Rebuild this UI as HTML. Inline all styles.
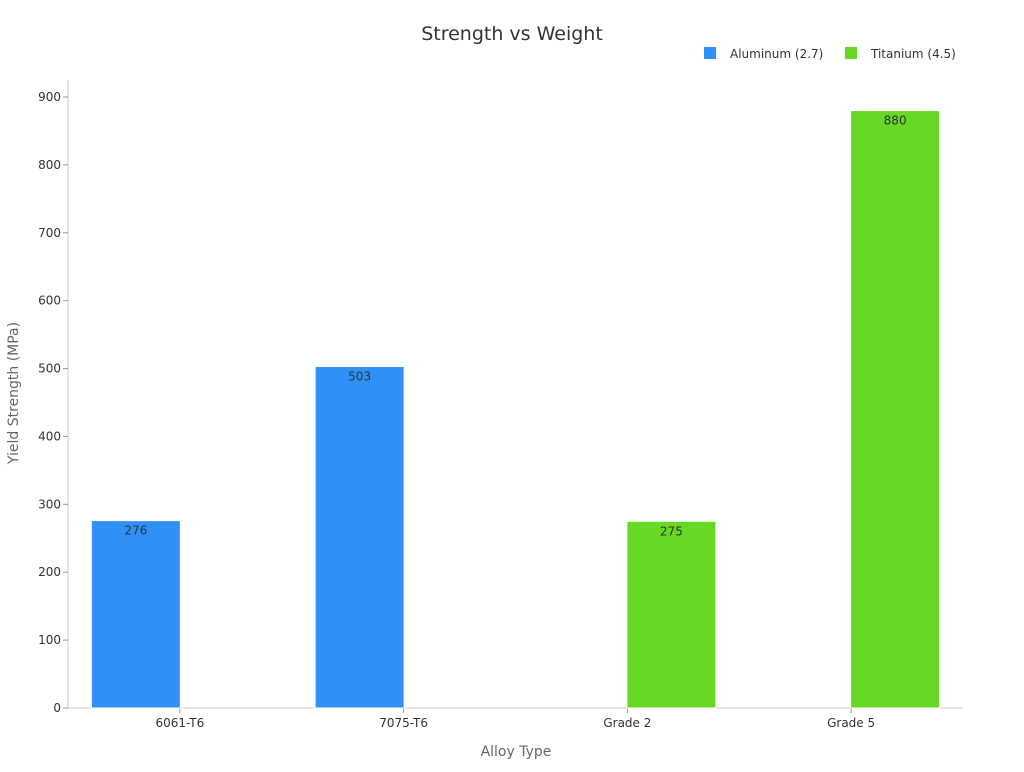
<!DOCTYPE html>
<html><head><meta charset="utf-8"><style>
body{margin:0;background:#fff;font-family:"DejaVu Sans","Liberation Sans",sans-serif;}
svg text{font-family:"DejaVu Sans","Liberation Sans",sans-serif;}
</style></head><body>
<svg id="chart" width="1024" height="768">
<text x="512" y="40" text-anchor="middle" font-size="19" fill="#333">Strength vs Weight</text>
<g>
<rect x="704" y="47" width="12" height="12" fill="#2f90f8"/>
<text x="730" y="58" font-size="12" fill="#333">Aluminum (2.7)</text>
<rect x="845" y="47" width="12" height="12" fill="#66d926"/>
<text x="871" y="58" font-size="12" fill="#333">Titanium (4.5)</text>
</g>
<g id="axes"></g>
<g id="bars"></g>
<text x="516" y="756" text-anchor="middle" font-size="14" fill="#666">Alloy Type</text>
<text transform="translate(18,393) rotate(-90)" text-anchor="middle" font-size="14" fill="#666">Yield Strength (MPa)</text>
</svg>
<script>
const categories=["6061-T6","7075-T6","Grade 2","Grade 5"];
const aluminumValues=[276,503,null,null];
const titaniumValues=[null,null,275,880];
const yTicks=[0,100,200,300,400,500,600,700,800,900];
const NS="http://www.w3.org/2000/svg";
const L=68,R=963,T=97,B=708,YMAX=900;
const y=v=>B-(v/YMAX)*(B-T);
const band=(R-L)/categories.length;
const xc=i=>L+band*(i+0.5);
function mk(tag,attrs,parent,text){const e=document.createElementNS(NS,tag);for(const k in attrs)e.setAttribute(k,attrs[k]);if(text!=null)e.textContent=text;parent.appendChild(e);return e;}
const ax=document.getElementById('axes'),bg=document.getElementById('bars');
let e=mk('line',{x1:L,x2:L,y1:80,y2:B,stroke:'#ccc'},ax);


e=mk('line',{x1:L,x2:R,y1:B,y2:B,stroke:'#ccc'},ax);


yTicks.forEach(t=>{
 const tk=mk('line',{x1:L-5,x2:L,y1:y(t),y2:y(t),stroke:'#999'},ax);
 
 
 const lb=mk('text',{x:L-7,y:y(t)+4,'text-anchor':'end','font-size':12,fill:'#333'},ax,t);
 
 
});
categories.forEach((c,i)=>{
 const tk=mk('line',{x1:xc(i),x2:xc(i),y1:B,y2:B+5,stroke:'#999'},ax);
 
 
 const lb=mk('text',{x:xc(i),y:B+19,'text-anchor':'middle','font-size':12,fill:'#333'},ax,c);
 
 
});
const bw=89;
function drawSeries(vals,off,color,name){
 vals.forEach((v,i)=>{
  if(v==null)return;
  const cx=xc(i)+off;
  const r=mk('rect',{x:cx-bw/2,y:y(v),width:bw,height:B-y(v),fill:color,stroke:'#fff','stroke-width':1},bg);
  
  
  const t=mk('text',{x:cx,y:y(v)+14,'text-anchor':'middle','font-size':12,fill:'#333'},bg,v);
  
  
 });
}
drawSeries(aluminumValues,-44,'#2f90f8','aluminum');
drawSeries(titaniumValues,44,'#66d926','titanium');
</script>
</body></html>
